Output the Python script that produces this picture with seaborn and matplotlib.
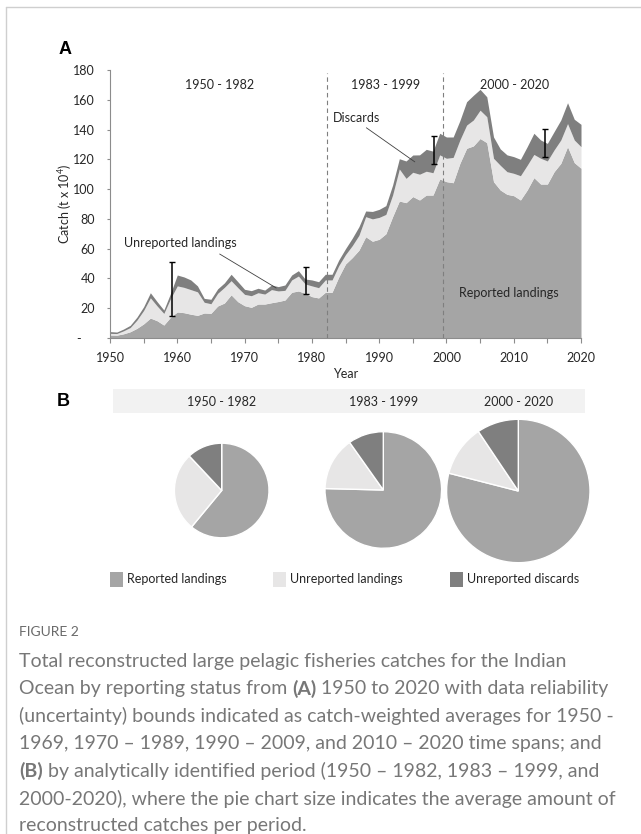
import matplotlib
matplotlib.use("Agg")
import matplotlib.pyplot as plt
import numpy as np
import pandas as pd
import seaborn as sns
from matplotlib.lines import Line2D
from matplotlib.patches import Rectangle

# ---------------------------------------------------------------- data
years = list(range(1950, 2021))
reported = [2.0, 1.9, 2.8, 4.2, 6.5, 9.5, 13.4, 11.6, 8.7, 14.0,
            17.5, 17.0, 16.0, 15.2, 16.8, 16.6, 21.5, 23.5, 29.0, 24.4,
            21.7, 20.6, 22.8, 22.8, 23.7, 24.5, 25.5, 30.7, 31.6, 30.0,
            27.8, 26.9, 30.7, 30.7, 41.0, 49.7, 54.0, 59.0, 68.0, 65.0,
            66.3, 70.0, 81.5, 92.0, 90.9, 95.0, 92.7, 96.0, 96.0, 106.8,
            105.0, 104.3, 117.3, 127.4, 129.0, 134.0, 131.2, 105.0, 99.4, 96.5,
            95.6, 92.7, 99.4, 107.7, 103.4, 103.4, 111.7, 117.3, 128.5, 117.8,
            114.0]
unreported_landings = [1.1, 1.1, 2.0, 2.8, 5.5, 9.0, 13.6, 9.9, 7.8, 12.5,
                       17.5, 17.0, 16.5, 15.8, 7.2, 6.4, 8.5, 10.5, 9.5, 9.4,
                       7.6, 7.8, 7.6, 6.7, 8.8, 7.1, 6.5, 8.3, 10.0, 6.3,
                       7.2, 6.9, 8.3, 8.3, 7.6, 6.3, 8.0, 10.0, 13.5, 15.0,
                       14.7, 13.0, 14.5, 21.5, 16.3, 16.3, 17.3, 16.0, 15.0, 16.2,
                       15.7, 17.0, 15.7, 15.6, 17.4, 19.0, 17.4, 15.7, 16.6, 15.2,
                       15.0, 16.3, 16.6, 15.6, 17.3, 15.5, 14.6, 15.7, 15.5, 15.2,
                       14.5]
discards = [1.2, 1.0, 1.2, 1.5, 2.0, 2.5, 3.4, 2.9, 2.3, 3.5,
            7.3, 7.0, 6.5, 4.0, 2.6, 3.0, 3.0, 3.0, 4.3, 4.0,
            3.4, 3.4, 3.0, 2.7, 3.1, 2.9, 3.6, 3.3, 3.6, 3.3,
            4.0, 4.0, 3.8, 3.8, 3.8, 4.0, 5.0, 5.8, 3.8, 5.0,
            5.4, 5.9, 6.7, 6.9, 11.7, 11.6, 13.0, 14.7, 14.5, 14.5,
            14.3, 13.7, 13.0, 15.7, 16.6, 14.0, 13.4, 14.3, 11.0, 11.3,
            11.2, 11.0, 12.5, 14.2, 12.3, 11.8, 12.3, 13.4, 14.0, 13.9,
            15.0]

series_names = ["Reported landings", "Unreported landings", "Unreported discards"]

period_labels = ["1950 - 1982", "1983 - 1999", "2000 - 2020"]
period_breaks = [1982.2, 1999.5]

# uncertainty bounds (catch-weighted averages per time span)
err_years = [1959.2, 1979.2, 1998.1, 2014.7]
err_low = [14.8, 29.3, 116.9, 121.8]
err_high = [51.3, 47.9, 135.7, 140.4]

# composition of the average catch per period (%)
pie_reported = [61.0, 75.4, 79.0]
pie_unreported = [27.0, 14.8, 11.6]
pie_discards = [12.0, 9.8, 9.4]

# ---------------------------------------------------------------- style
sns.set_theme(style="ticks")
plt.rcParams["font.family"] = ["Lato", "DejaVu Sans"]
plt.rcParams["mathtext.fontset"] = "custom"
plt.rcParams["mathtext.rm"] = "Lato"
plt.rcParams["mathtext.default"] = "regular"

C_REP, C_UNR, C_DIS = "#a5a5a5", "#e7e6e6", "#7f7f7f"
COLORS = [C_REP, C_UNR, C_DIS]
AXIS_C = "#8c8c8c"
TXT = "#262626"
CAP_C = "#777777"

W, H = 641, 834
fig = plt.figure(figsize=(W / 100, H / 100), dpi=100)


def fx(px):
    return px / W


def fy(py):
    return 1 - py / H


# ---------------------------------------------------------------- panel A
df = pd.DataFrame({"Year": years,
                   series_names[0]: reported,
                   series_names[1]: unreported_landings,
                   series_names[2]: discards})

ax = fig.add_axes([fx(110), fy(338), 471 / W, 268 / H])
ax.stackplot(df["Year"], *[df[n] for n in series_names],
             colors=COLORS, linewidth=0)
ax.set_xlim(1950, 2020)
ax.set_ylim(0, 180)

ax.set_xticks(range(1950, 2021, 10))
ax.set_xticks(range(1955, 2020, 10), minor=True)
yt = list(range(0, 181, 20))
ax.set_yticks(yt)
ax.set_yticklabels(["-    "] + [str(v) for v in yt[1:]])
ax.tick_params(axis="x", which="both", length=3.8, width=0.8, color=AXIS_C,
               pad=6, labelsize=9, labelcolor=TXT)
ax.tick_params(axis="y", length=2.4, width=0.8, color=AXIS_C,
               pad=8.4, labelsize=9, labelcolor=TXT)
sns.despine(ax=ax)
for s in ("left", "bottom"):
    ax.spines[s].set_color(AXIS_C)
    ax.spines[s].set_linewidth(0.8)
ax.set_xlabel("Year", fontsize=9, color=TXT, labelpad=3)
fig.text(fx(65.5), fy(204), "Catch (t x 10$^{4}$)", rotation=90,
         ha="center", va="center", fontsize=9, color=TXT)

for b in period_breaks:
    ax.axvline(b, ymax=178.3 / 180, color="#7f7f7f", lw=0.8, ls=(0, (4, 3)))

label_x = [1966.3, 1990.9, 2010.1]
for lx, lab in zip(label_x, period_labels):
    ax.text(lx, 170, lab, ha="center", va="center", fontsize=9, color=TXT)

err_mid = [(lo + hi) / 2 for lo, hi in zip(err_low, err_high)]
err_half = [(hi - lo) / 2 for lo, hi in zip(err_low, err_high)]
ax.errorbar(err_years, err_mid, yerr=err_half, fmt="none", ecolor="black",
            elinewidth=1.1, capsize=1.9, capthick=1.0)

ax.text(1960.5, 63.8, "Unreported landings", ha="center", va="center",
        fontsize=9, color=TXT)
ax.plot([1966.3, 1974.7], [56.4, 33.6], color="#404040", lw=0.6)
ax.text(1986.7, 148, "Discards", ha="center", va="center", fontsize=9, color=TXT)
ax.plot([1988.1, 1995.3], [141.2, 118.3], color="#404040", lw=0.6)
ax.text(2009.2, 30.4, "Reported landings", ha="center", va="center",
        fontsize=9, color=TXT)

fig.text(fx(59), fy(50), "A", fontsize=13, fontweight="bold",
         family="Liberation Sans", ha="left", va="center", color="black")
fig.text(fx(57), fy(402), "B", fontsize=13, fontweight="bold",
         family="Liberation Sans", ha="left", va="center", color="black")

# ---------------------------------------------------------------- panel B
ov = fig.add_axes([0, 0, 1, 1])
ov.patch.set_alpha(0)

ov.add_patch(Rectangle((112.7, H - 413), 585 - 112.7, 24,
                       facecolor="#f2f2f2", edgecolor="none"))
pie_centres = [(221.7, 490.5), (383.3, 490.0), (518.3, 491.0)]
pie_radii = [47.3, 58.3, 71.7]
for (cx, cy), rad, lab, r, u, d in zip(pie_centres, pie_radii, period_labels,
                                       pie_reported, pie_unreported, pie_discards):
    ov.text(cx, H - 401.5, lab, ha="center", va="center", fontsize=9, color=TXT)
    ov.pie([r, u, d], colors=COLORS, startangle=90, counterclock=False,
           center=(cx, H - cy), radius=rad, frame=True,
           wedgeprops=dict(edgecolor="white", linewidth=1.0))

leg_sq_x = [110, 272.5, 450]
leg_y = 579
for lx, name, col in zip(leg_sq_x, series_names, COLORS):
    ov.add_patch(Rectangle((lx, H - leg_y - 7.5), 13, 15,
                           facecolor=col, edgecolor="none"))
    ov.text(lx + 17, H - leg_y, name, ha="left", va="center",
            fontsize=9, color=TXT)

ov.set_xlim(0, W)
ov.set_ylim(0, H)
ov.set_aspect("auto")
ov.axis("off")

# ---------------------------------------------------------------- frame
fig.add_artist(Line2D([fx(6), fx(6)], [fy(7), 0], color="#cfcfcf", lw=1.0))
fig.add_artist(Line2D([fx(6), 1], [fy(7), fy(7)], color="#cfcfcf", lw=1.0))

# ---------------------------------------------------------------- caption
renderer = fig.canvas.get_renderer()
CAP_SIZE = 14


def space_width(weight):
    a = fig.text(0, 0, "aa", fontsize=CAP_SIZE, fontweight=weight)
    b = fig.text(0, 0, "a a", fontsize=CAP_SIZE, fontweight=weight)
    w = b.get_window_extent(renderer).width - a.get_window_extent(renderer).width
    a.remove()
    b.remove()
    return w


def rich_line(x, y, parts):
    for i, (s, weight) in enumerate(parts):
        if i > 0:
            x += space_width(weight)
        t = fig.text(fx(x), fy(y), s, fontsize=CAP_SIZE, fontweight=weight,
                     ha="left", va="center", color=CAP_C)
        x += t.get_window_extent(renderer).width


fig.text(fx(19), fy(632), "FIGURE 2", fontsize=10, color="#6a6a6a",
         ha="left", va="center")
caption = [
    [("Total reconstructed large pelagic fisheries catches for the Indian", "normal")],
    [("Ocean by reporting status from", "normal"), ("(A)", "bold"),
     ("1950 to 2020 with data reliability", "normal")],
    [("(uncertainty) bounds indicated as catch-weighted averages for 1950 -", "normal")],
    [("1969, 1970 \u2013 1989, 1990 \u2013 2009, and 2010 \u2013 2020 time spans; and", "normal")],
    [("(B)", "bold"),
     ("by analytically identified period (1950 \u2013 1982, 1983 \u2013 1999, and", "normal")],
    [("2000-2020), where the pie chart size indicates the average amount of", "normal")],
    [("reconstructed catches per period.", "normal")],
]
for i, parts in enumerate(caption):
    rich_line(19, 661 + 27.5 * i, parts)

fig.savefig("out.png", dpi=100)
